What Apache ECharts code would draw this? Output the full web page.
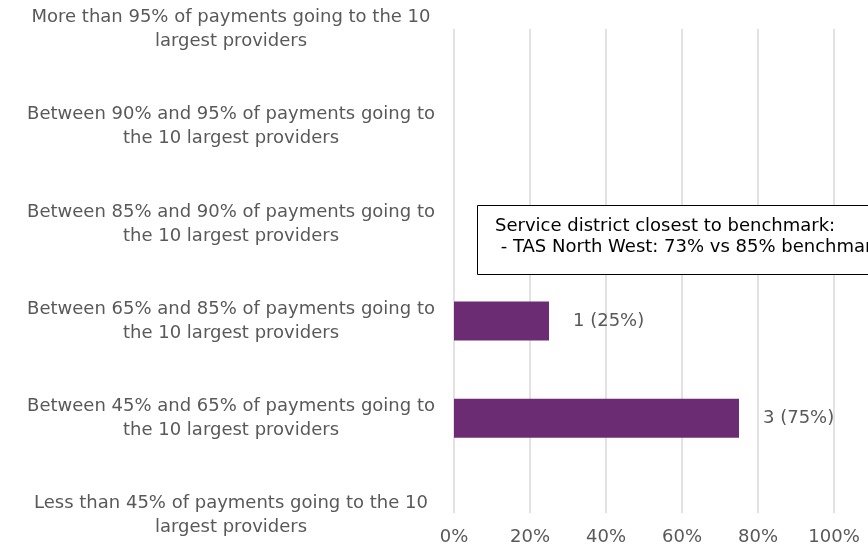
<!DOCTYPE html>
<html>
<head>
<meta charset="utf-8">
<script src="https://cdn.jsdelivr.net/npm/echarts@6.0.0/dist/echarts.min.js"></script>
<style>
    html, body { margin: 0; padding: 0; background: #fff; overflow: hidden; }
    /* chart box runs a bit past the window top and bottom, like the source */
    #main { position: absolute; left: 0; top: -19px; width: 868px; height: 583px; }
</style>
</head>
<body>
<div id="main"></div>
<script>
// categories, top to bottom as shown
var categories = [
    "More than 95% of payments going to the 10\nlargest providers",
    "Between 90% and 95% of payments going to\nthe 10 largest providers",
    "Between 85% and 90% of payments going to\nthe 10 largest providers",
    "Between 65% and 85% of payments going to\nthe 10 largest providers",
    "Between 45% and 65% of payments going to\nthe 10 largest providers",
    "Less than 45% of payments going to the 10\nlargest providers"
];
var counts = [0, 0, 0, 1, 3, 0];
var shares = [0, 0, 0, 0.25, 0.75, 0];
var xTicks = [0, 0.2, 0.4, 0.6, 0.8, 1];
var noteLines = [
    "Service district closest to benchmark:",
    " - TAS North West: 73% vs 85% benchmark"
];

var font = "DejaVu Sans";
var chart = echarts.init(document.getElementById("main"));

var option = {
    animation: false,
    textStyle: { fontFamily: font },
    grid: [
        // category band grid (bars + labels)
        { left: 454, right: 34, top: 0, bottom: 0 },
        // gridline / percent axis grid
        { left: 454, right: 34, top: 48, bottom: 51 }
    ],
    xAxis: [
        {
            gridIndex: 0,
            type: "value",
            min: xTicks[0],
            max: xTicks[xTicks.length - 1],
            show: false
        },
        {
            gridIndex: 1,
            type: "value",
            min: xTicks[0],
            max: xTicks[xTicks.length - 1],
            interval: xTicks[1] - xTicks[0],
            axisLine: { show: false },
            axisTick: { show: false },
            splitLine: { show: true, lineStyle: { color: "#d9d9d9", width: 1.5 } },
            axisLabel: {
                margin: 15,
                color: "#595959",
                fontSize: 18,
                fontFamily: font,
                formatter: function (v) { return Math.round(v * 100) + "%"; }
            }
        }
    ],
    yAxis: [
        {
            gridIndex: 0,
            type: "category",
            inverse: true,
            data: categories,
            axisLine: { show: false },
            axisTick: { show: false },
            splitLine: { show: false },
            axisLabel: {
                align: "center",
                margin: 223,
                color: "#595959",
                fontSize: 18,
                lineHeight: 24,
                fontFamily: font
            }
        },
        {
            gridIndex: 1,
            type: "value",
            show: false
        }
    ],
    series: [
        {
            type: "bar",
            xAxisIndex: 0,
            yAxisIndex: 0,
            barWidth: 39,
            data: shares,
            itemStyle: { color: "#6b2c74" },
            label: {
                show: true,
                position: "right",
                distance: 24,
                color: "#595959",
                fontSize: 18,
                fontFamily: font,
                formatter: function (p) {
                    var c = counts[p.dataIndex];
                    if (!c) return "";
                    return c + " (" + Math.round(p.value * 100) + "%)";
                }
            }
        }
    ],
    graphic: [
        {
            type: "rect",
            left: 477,
            top: 224,
            shape: { width: 420, height: 69 },
            style: { fill: "#fff", stroke: "#000", lineWidth: 1 },
            z: 10
        },
        {
            type: "text",
            left: 495,
            top: 235,
            style: {
                text: noteLines.join("\n"),
                fill: "#000",
                font: "18px " + font,
                lineHeight: 21
            },
            z: 11
        }
    ]
};

chart.setOption(option);
</script>
</body>
</html>
